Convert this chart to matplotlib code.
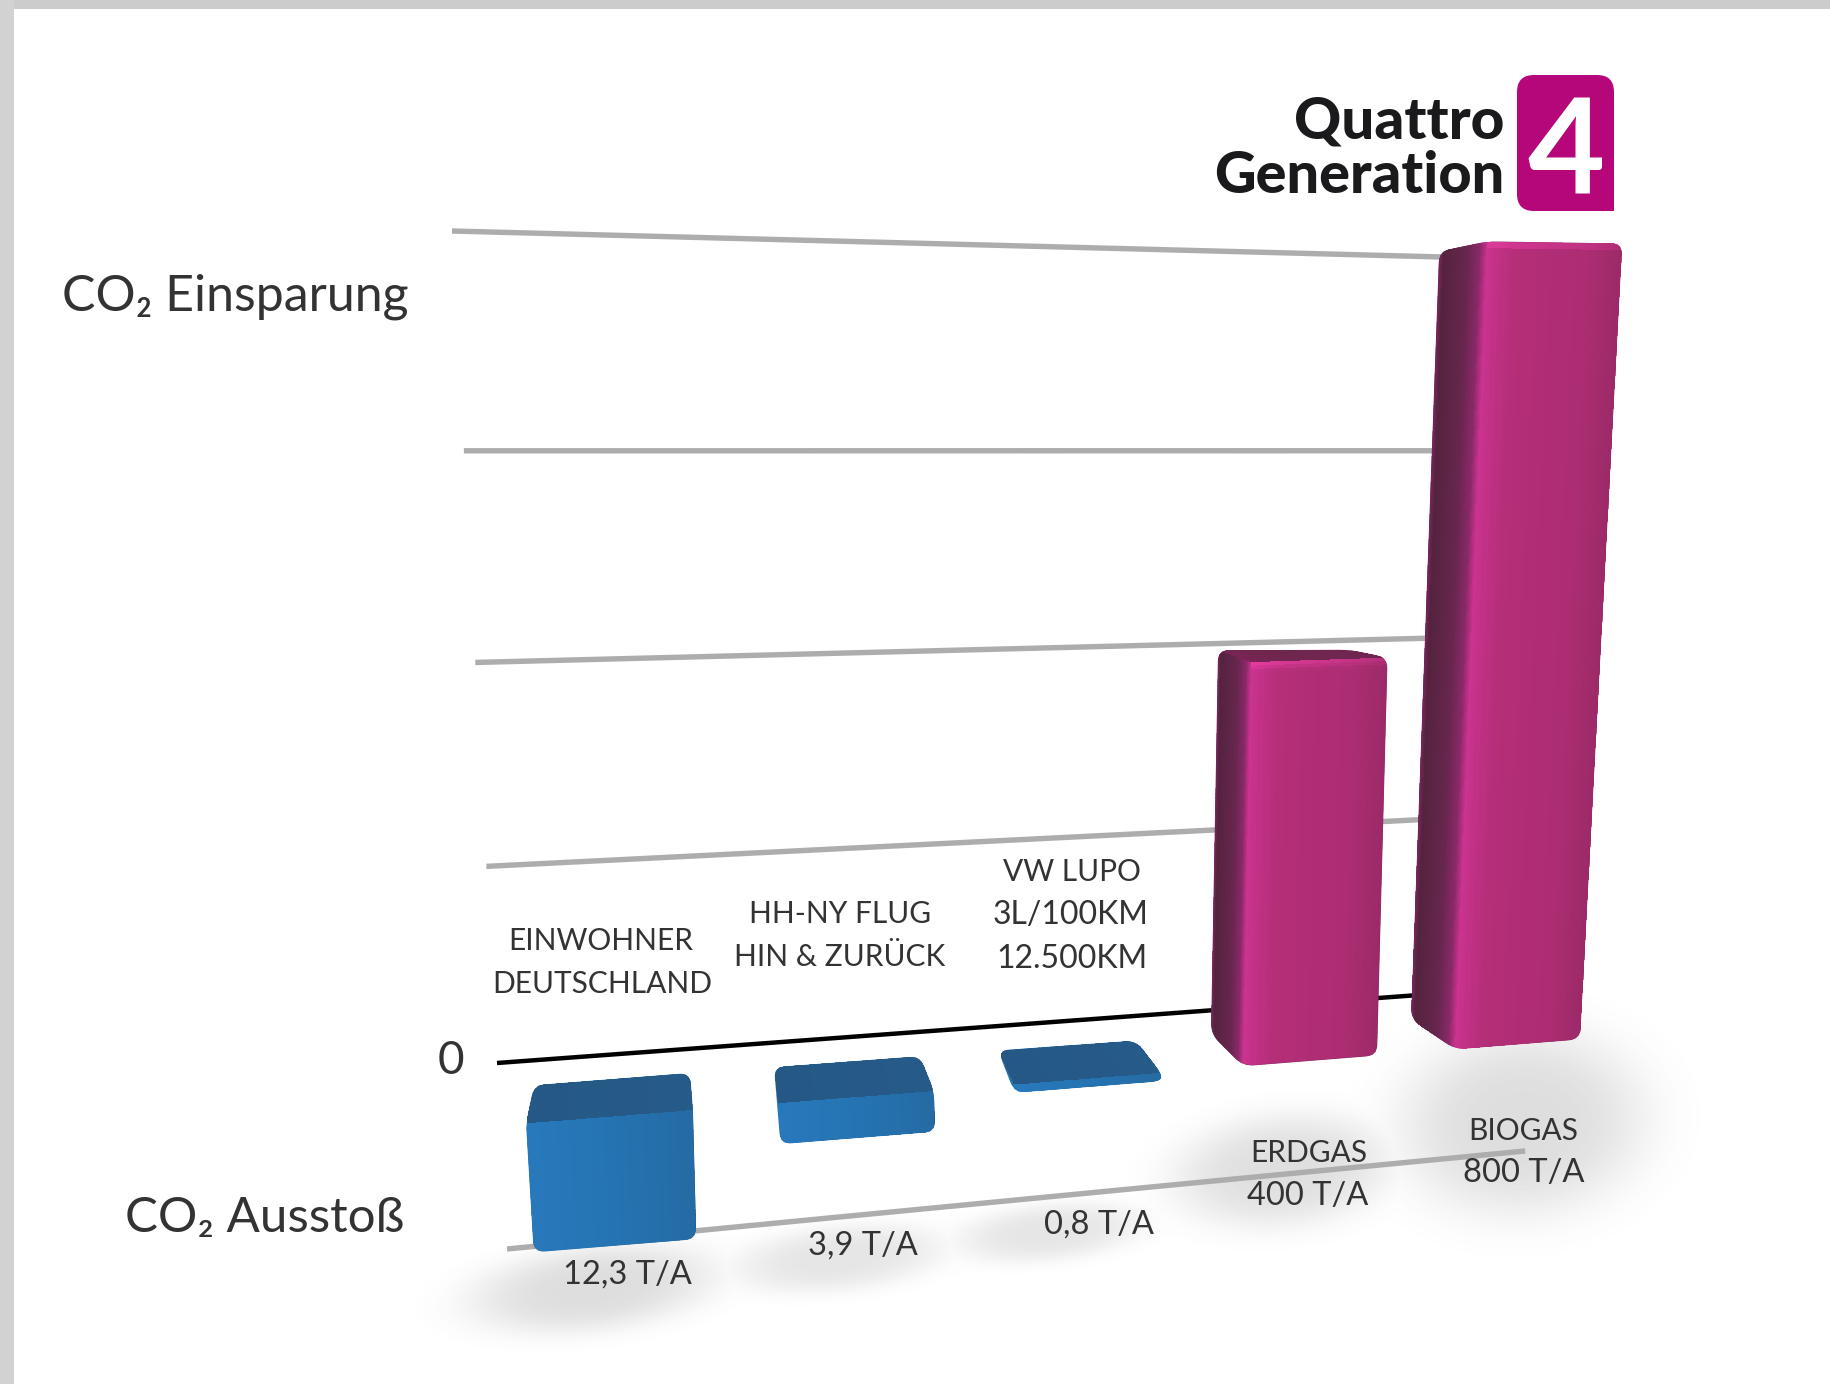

import numpy as np
import matplotlib
matplotlib.use("Agg")
from matplotlib import pyplot as plt
from matplotlib.path import Path
from matplotlib.patches import PathPatch, Rectangle
from matplotlib.colors import to_rgb

# data
categories = ["EINWOHNER\nDEUTSCHLAND", "HH-NY FLUG\nHIN & ZURÜCK", "VW LUPO\n3L/100KM\n12.500KM", "ERDGAS", "BIOGAS"]
value_labels = ["12,3 T/A", "3,9 T/A", "0,8 T/A", "400 T/A", "800 T/A"]
emissions = [12.3, 3.9, 0.8, 0, 0]      # t/a, drawn below zero
savings = [0, 0, 0, 400, 800]           # t/a, drawn above zero
grid_values = [800, 600, 400, 200]

# layout of the perspective (picture pixels)
BAR_LEFT = [526, 778, 1014, 1243, 1455]
BAR_WIDTH = [167, 156, 147, 134, 125]
EMISSION_SCALE = 10.5
WALL_CORNERS = {(0, 800): (452, 231), (0, 0): (497, 1063), (1, 800): (1442, 257), (1, 0): (1419, 995)}
LOW_LINE = -196
LOW_LINE_END = 1.14
TEXT = "#333333"
FONT = ["Lato", "DejaVu Sans"]

plt.rcParams["font.family"] = FONT

fig = plt.figure(figsize=(18.31, 13.84), dpi=100)
ax = fig.add_axes([0, 0, 1, 1])
ax.set_xlim(0, 1831)
ax.set_ylim(1384, 0)
ax.axis("off")


def fit_wall():
    A = []
    b = []
    for (u, v), (x, y) in WALL_CORNERS.items():
        A.append([u, v, 1, 0, 0, 0, -u * x, -v * x])
        A.append([0, 0, 0, u, v, 1, -u * y, -v * y])
        b += [x, y]
    return np.append(np.linalg.solve(np.array(A, float), np.array(b, float)), 1).reshape(3, 3)


H = fit_wall()


def wall(u, v):
    p = H @ np.array([u, v, 1.0])
    return p[0] / p[2], p[1] / p[2]


def bar_corners(i, value):
    """Eight corners of a bar: base cap and far end, from its value"""
    x = BAR_LEFT[i]
    w = BAR_WIDTH[i]
    yl = 1123 - 0.0795 * (x - 529)
    yr = yl - 0.0795 * w
    fl = np.array([x, yl], float)
    fr = np.array([x + w, yr], float)
    bl = fl + [8 - 12 * i, -38 + 2 * i]
    br = fr + [-3 - 11 * i, -37 + 2.4 * i]
    if value >= 0:
        v = value
        bl = bl + [-4, 0]
        tfl = fl + [5e-5 * v * v, -1.01 * v]
        tfr = fr + [6.6e-5 * v * v, -0.995 * v]
        tbl = bl + [4.4e-5 * v * v, -0.96 * v]
        tbr = br + [5.5e-5 * v * v, -0.94 * v]
    else:
        d = -value * EMISSION_SCALE
        tfl = fl + [0.06 * d, d]
        tfr = fr + [0.025 * d, d]
        tbl = bl + [0.06 * d, d]
        tbr = br + [0.025 * d, d]
    return fl, fr, bl, br, tfl, tfr, tbl, tbr


def hull(points):
    pts = sorted(set((float(p[0]), float(p[1])) for p in points))

    def half(seq):
        out = []
        for p in seq:
            while len(out) > 1 and (out[-1][0] - out[-2][0]) * (p[1] - out[-2][1]) - (out[-1][1] - out[-2][1]) * (p[0] - out[-2][0]) <= 0:
                out.pop()
            out.append(p)
        return out[:-1]

    return np.array(half(pts) + half(pts[::-1]))


def rounded(points, r):
    verts = []
    codes = []
    n = len(points)
    for k in range(n):
        prev, p, nxt = points[k - 1], points[k], points[(k + 1) % n]
        a = p + (prev - p) * min(r / np.linalg.norm(prev - p), 0.45)
        b = p + (nxt - p) * min(r / np.linalg.norm(nxt - p), 0.45)
        verts.append(a)
        codes.append(Path.MOVETO if k == 0 else Path.LINETO)
        verts += [p, b]
        codes += [Path.CURVE3, Path.CURVE3]
    verts.append(verts[0])
    codes.append(Path.CLOSEPOLY)
    return Path(np.array(verts), codes)


def ramp(stops, t):
    xs = [s[0] for s in stops]
    rgb = np.array([to_rgb(s[1]) for s in stops])
    return np.stack([np.interp(t, xs, rgb[:, c]) for c in range(3)], axis=-1)


def face(p00, p10, p01, p11, stops, clip, z, glow=0):
    # p00/p10 at the base, p01/p11 at the far end
    nx, ny = 50, 120
    s = np.linspace(0, 1, nx + 1)
    t = np.linspace(0, 1, ny + 1)
    S, T = np.meshgrid(s, t)
    X = (1 - S) * (1 - T) * p00[0] + S * (1 - T) * p10[0] + (1 - S) * T * p01[0] + S * T * p11[0]
    Y = (1 - S) * (1 - T) * p00[1] + S * (1 - T) * p10[1] + (1 - S) * T * p01[1] + S * T * p11[1]
    sc, tc = np.meshgrid((s[:-1] + s[1:]) / 2, (t[:-1] + t[1:]) / 2)
    C = ramp(stops, sc)
    if glow:
        # thin light edge at the top, strongest towards the left corner
        h = abs(p01[1] - p00[1])
        amount = np.clip(1 - (1 - tc) * h / 9, 0, 1) * (1 - 0.6 * sc) * glow
        C = C + (np.array(to_rgb("#F040A8")) - C) * amount[..., None]
    m = ax.pcolormesh(X, Y, C, shading="flat", antialiased=False, edgecolors="none", zorder=z)
    m.set_clip_path(clip)
    return m


BLUE_FRONT = [(0, "#2879BC"), (0.5, "#2573B2"), (1, "#256BA4")]
BLUE_TOP = [(0, "#255885"), (1, "#265A88")]
PINK_FRONT = [(0, "#CB3390"), (0.08, "#C23186"), (0.22, "#B42E78"), (0.75, "#AC2D72"), (1, "#9C2A68")]
PINK_SIDE = [(0, "#7A2458"), (0.1, "#54233F"), (0.6, "#68264E"), (0.85, "#8A2868"), (1, "#C6328A")]
PINK_TOP = [(0, "#7A2458"), (0.2, "#70264F"), (1, "#6E2650")]

# page edges
ax.add_patch(Rectangle((0, 0), 1831, 9, fc="#CCCCCC", ec="none", zorder=0))
ax.add_patch(Rectangle((0, 0), 14, 1384, fc="#D2D2D2", ec="none", zorder=0))

# soft shadows on the floor
SHADOWS = [(592, 1288, 122, 42, -7, 0.2), (838, 1258, 105, 32, -6, 0.15), (1048, 1232, 92, 28, -6, 0.15),
           (1282, 1170, 108, 55, -6, 0.19), (1522, 1122, 122, 92, -5, 0.2)]
yy, xx = np.mgrid[0:1384, 0:1831]
alpha = np.zeros(xx.shape)
for cx, cy, a, b, rot, peak in SHADOWS:
    th = np.radians(rot)
    dx = xx - cx
    dy = yy - cy
    p = (dx * np.cos(th) + dy * np.sin(th)) / a
    q = (-dx * np.sin(th) + dy * np.cos(th)) / b
    alpha = np.maximum(alpha, peak * np.exp(-(p * p + q * q) ** 1.8))
rgba = np.zeros(xx.shape + (4,))
rgba[..., :3] = 0.35
rgba[..., 3] = alpha
ax.imshow(rgba, extent=(0, 1831, 1384, 0), aspect="auto", zorder=1, interpolation="bilinear")
ax.set_xlim(0, 1831)
ax.set_ylim(1384, 0)

# wall lines
for g in grid_values:
    (x0, y0), (x1, y1) = wall(0, g), wall(1, g)
    ax.plot([x0, x1], [y0, y1], color="#ADADAD", lw=3.9, solid_capstyle="butt", zorder=2)
(x0, y0), (x1, y1) = wall(0, 0), wall(1, 0)
ax.plot([x0, x1], [y0, y1], color="black", lw=3.2, solid_capstyle="butt", zorder=2)
(x0, y0), (x1, y1) = wall(0, LOW_LINE), wall(LOW_LINE_END, LOW_LINE)
ax.plot([x0, x1], [y0, y1], color="#ADADAD", lw=3.9, solid_capstyle="butt", zorder=2)

# bars
for i in range(len(categories)):
    z = 5 + i
    if emissions[i] > 0:
        fl, fr, bl, br, tfl, tfr, tbl, tbr = bar_corners(i, -emissions[i])
        outline = hull([fl, fr, bl, br, tfl, tfr])
        clip = PathPatch(rounded(outline, 11), fc="#2573B3", ec="none", zorder=z)
        ax.add_patch(clip)
        face(fl, fr, tfl, tfr, BLUE_FRONT, clip, z + 0.1)
        face(bl, br, fl, fr, BLUE_TOP, clip, z + 0.2)
        ax.plot([fr[0] + 1, tfr[0] + 1], [fr[1], tfr[1]], color="#1D3F5E", lw=1.6, zorder=z + 0.3, clip_path=clip)
    if savings[i] > 0:
        fl, fr, bl, br, tfl, tfr, tbl, tbr = bar_corners(i, savings[i])
        outline = hull([fl, fr, bl, tfl, tfr, tbl, tbr])
        clip = PathPatch(rounded(outline, 11), fc="#8A2862", ec="none", zorder=z)
        ax.add_patch(clip)
        if tbl[1] < tfl[1]:
            face(tbl, tbr, tfl, tfr, PINK_TOP, clip, z + 0.1)
        face(bl, fl, tbl, tfl, PINK_SIDE, clip, z + 0.2)
        face(fl, fr, tfl, tfr, PINK_FRONT, clip, z + 0.3, glow=0.8)

# texts
LABEL_POS = [[(601, 941), (602, 984)], [(840, 914), (840, 957)], [(1072, 872), (1071, 915), (1072, 959)],
             [(1309, 1153)], [(1523, 1131)]]
VALUE_POS = [(627, 1275), (863, 1246), (1099, 1225), (1308, 1196), (1524, 1173)]
for label, pos in zip(categories, LABEL_POS):
    for line, (x, y) in zip(label.split("\n"), pos):
        size = 23 if line[0].isdigit() else 21.5
        ax.text(x, y, line, ha="center", va="center", fontsize=size, color=TEXT, zorder=20)
for label, (x, y) in zip(value_labels, VALUE_POS):
    ax.text(x, y, label, ha="center", va="center", fontsize=23.5, color=TEXT, zorder=20)

ax.text(62, 310, "CO₂ Einsparung", ha="left", va="baseline", fontsize=36, color=TEXT, zorder=20)
ax.text(404, 1232, "CO₂ Ausstoß", ha="right", va="baseline", fontsize=35.5, color=TEXT, zorder=20)
ax.text(451, 1061, "0", ha="center", va="center", fontsize=33, color=TEXT, zorder=20)

# logo
logo = np.array([[1517, 75], [1614, 75], [1614, 211], [1517, 211]], float)
ax.add_patch(PathPatch(rounded(logo, 17), fc="#B5067A", ec="none", zorder=3))
ax.add_patch(Rectangle((1590, 190), 24, 21, fc="#B5067A", ec="none", zorder=3))
ax.text(1566, 193, "4", ha="center", va="baseline", fontsize=96, fontweight="bold", color="white", zorder=4)
ax.text(1504, 138, "Quattro", ha="right", va="baseline", fontsize=42, fontweight="black", color="#1A1A1C", zorder=4)
ax.text(1504, 193, "Generation", ha="right", va="baseline", fontsize=41.5, fontweight="black", color="#1A1A1C", zorder=4)

fig.savefig("out.png", dpi=100)
